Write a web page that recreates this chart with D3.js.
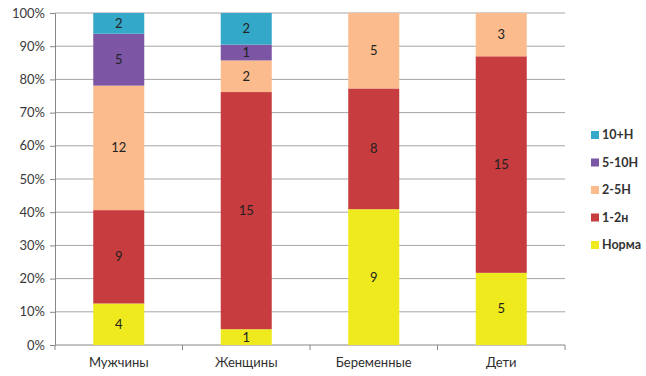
<!DOCTYPE html>
<html><head><meta charset="utf-8">
<script src="https://cdn.jsdelivr.net/npm/d3@7"></script>
<style>
body{margin:0;background:#fff;}
svg text{font-family:Lato,"Open Sans",sans-serif;}
</style></head>
<body>
<svg id="chart" width="646" height="376"></svg>
<script>
const categories = ["Мужчины","Женщины","Беременные","Дети"];
const seriesNames = ["Норма","1-2н","2-5Н","5-10Н","10+Н"];
const norma   = [4, 1, 9, 5];
const n1_2    = [9, 15, 8, 15];
const n2_5    = [12, 2, 5, 3];
const n5_10   = [5, 1, 0, 0];
const n10plus = [2, 2, 0, 0];
const yTicks = [0,0.1,0.2,0.3,0.4,0.5,0.6,0.7,0.8,0.9,1];
const colors = ["#eeea1e","#c63c3f","#fbbb8c","#7d55a5","#33a8c9"];

(function(){
const seriesValues = [norma, n1_2, n2_5, n5_10, n10plus];
const rows = categories.map((c,i)=>{
  const r = {cat:c};
  seriesNames.forEach((s,j)=> r[s] = seriesValues[j][i]);
  return r;
});
const stack = d3.stack().keys(seriesNames).offset(d3.stackOffsetExpand);
const layers = stack(rows);

const svg = d3.select("#chart");
const mLeft=55, mRight=565, mTop=13, mBottom=345;
const x = d3.scaleBand().domain(categories).range([mLeft,mRight]).paddingInner(0.6).paddingOuter(0.3);
const y = d3.scaleLinear().domain([0,1]).range([mBottom,mTop]);

// gridlines
svg.append("g").selectAll("line").data(yTicks.filter(t=>t>0)).join("line")
  .attr("x1",mLeft).attr("x2",mRight).attr("y1",d=>y(d)).attr("y2",d=>y(d))
  .attr("stroke","#a9a3a3").attr("stroke-width",1);

// y axis
const yAxis = svg.append("g").attr("transform",`translate(${mLeft},0)`)
  .call(d3.axisLeft(y).tickValues(yTicks).tickFormat(d3.format(".0%")).tickSize(5).tickSizeOuter(0));
yAxis.select(".domain").attr("stroke","#8c8585");
yAxis.selectAll(".tick line").attr("stroke","#8c8585");
yAxis.selectAll("text").attr("font-size",13).attr("fill","#3a3a3a").attr("x",-10);

// x axis
const xAxisG = svg.append("g").attr("transform",`translate(0,${mBottom})`);
xAxisG.append("line").attr("x1",mLeft).attr("x2",mRight).attr("stroke","#8c8585");
const bounds = d3.range(categories.length+1).map(i=>mLeft + i*(mRight-mLeft)/categories.length);
xAxisG.selectAll("line.tk").data(bounds).join("line").attr("class","tk")
  .attr("x1",d=>d).attr("x2",d=>d).attr("y1",0).attr("y2",5).attr("stroke","#8c8585");
xAxisG.selectAll("text").data(categories).join("text")
  .attr("x",d=>x(d)+x.bandwidth()/2).attr("y",22)
  .attr("text-anchor","middle").attr("font-size",13).attr("fill","#2e2e2e").text(d=>d);

// bars
const g = svg.append("g");
layers.forEach((layer,li)=>{
  const lg = g.append("g");
  const segs = layer.filter(d=>d[1]-d[0]>0);
  lg.selectAll("rect").data(segs).join("rect")
    .attr("x",d=>x(d.data.cat)).attr("width",x.bandwidth())
    .attr("y",d=>y(d[1])).attr("height",d=>y(d[0])-y(d[1]))
    .attr("fill",colors[li]);
  lg.selectAll("text").data(segs).join("text")
    .attr("x",d=>x(d.data.cat)+x.bandwidth()/2)
    .attr("y",d=>(y(d[0])+y(d[1]))/2)
    .attr("dy","0.35em").attr("text-anchor","middle")
    .attr("font-size",13).attr("fill","#222")
    .text(d=>d.data[layer.key]);
});

// legend
const legendOrder = seriesNames.slice().reverse();
const lgd = svg.append("g");
legendOrder.forEach((s,i)=>{
  const yy = 135 + i*27.5;
  const idx = seriesNames.indexOf(s);
  lgd.append("rect").attr("x",591).attr("y",yy-4).attr("width",8).attr("height",8).attr("fill",colors[idx]);
  lgd.append("text").attr("x",602).attr("y",yy).attr("dy","0.35em")
    .attr("font-size",12.5).attr("font-weight","bold").attr("fill","#333").text(s);
});
})();
</script>
</body></html>
